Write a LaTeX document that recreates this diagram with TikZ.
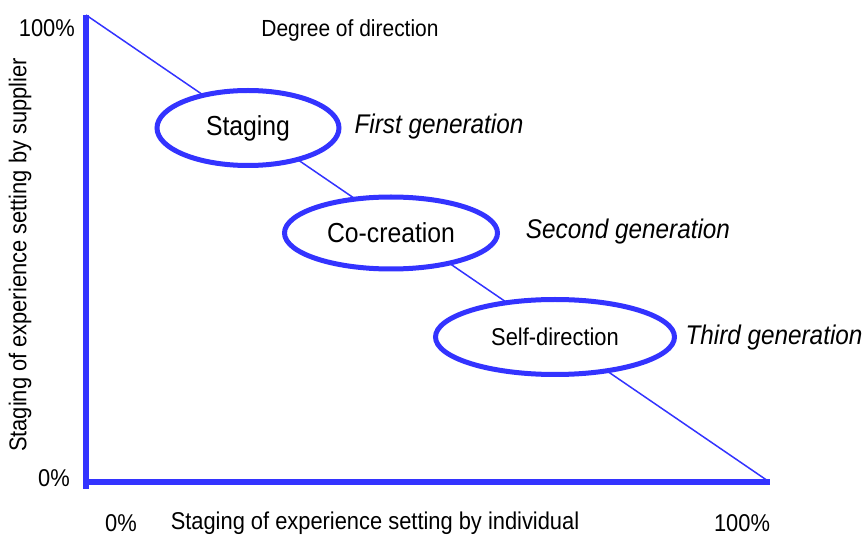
\documentclass[tikz,border=0pt]{standalone}
\usepackage{fontspec}
\setmainfont[FakeStretch=0.9]{Liberation Sans}
\usepackage{tikz}
\usetikzlibrary{shapes.geometric}
\definecolor{axisblue}{RGB}{51,51,255}

\begin{document}
\begin{tikzpicture}[x=1pt,y=-1pt,
			axis line/.style={draw=axisblue,line width=6pt},
			stage node/.style={ellipse,draw=axisblue,fill=white,line width=5pt,
				inner sep=0pt,font=\fontsize{27.5}{32}\selectfont},
			gen label/.style={inner sep=0pt,font=\fontsize{27}{32}\selectfont\itshape},
			plain label/.style={inner sep=0pt,font=\fontsize{24.3}{29}\selectfont}]
			
			\useasboundingbox (0,0) rectangle (868,537);
			
			\coordinate (top) at (86,15);
			\coordinate (foot) at (86,489);
			\coordinate (origin) at (83,482);
			\coordinate (end) at (770,482);
			\coordinate (tip) at (768,481);
			
			% axes and diagonal
			\draw[axis line] (top) -- (foot);
			\draw[axis line] (origin) -- (end);
			\draw[axisblue,line width=1.5pt] (top) -- (tip);
			
			% generations
			\node[stage node,minimum width=182pt,minimum height=75pt] (S) at (248,128) {Staging};
			\node[stage node,minimum width=213pt,minimum height=72pt] (C) at (391,233) {Co-creation};
			\node[stage node,minimum width=239pt,minimum height=75pt,
				font=\fontsize{24.3}{29}\selectfont] (D) at (555,337) {Self-direction};
			
			\node[gen label] (S1) at (439,127) {First generation};
			\node[gen label] (C1) at (628,232) {Second generation};
			\node[gen label] (D1) at (774,338) {Third generation};
			
			\node[plain label,font=\fontsize{23.3}{28}\selectfont] (T) at (350,30) {Degree of direction};
			
			\node[plain label,anchor=east] (Y1) at (75,28) {100\%};
			\node[plain label,anchor=east] (Y0) at (70,478) {0\%};
			\node[plain label] (X0) at (121,523) {0\%};
			\node[plain label] (X1) at (742,523) {100\%};
			\node[plain label] (XL) at (375,523) {Staging of experience setting by individual};
			\node[plain label,rotate=90] (YL) at (20,255) {Staging of experience setting by supplier};
		\end{tikzpicture}
\end{document}
